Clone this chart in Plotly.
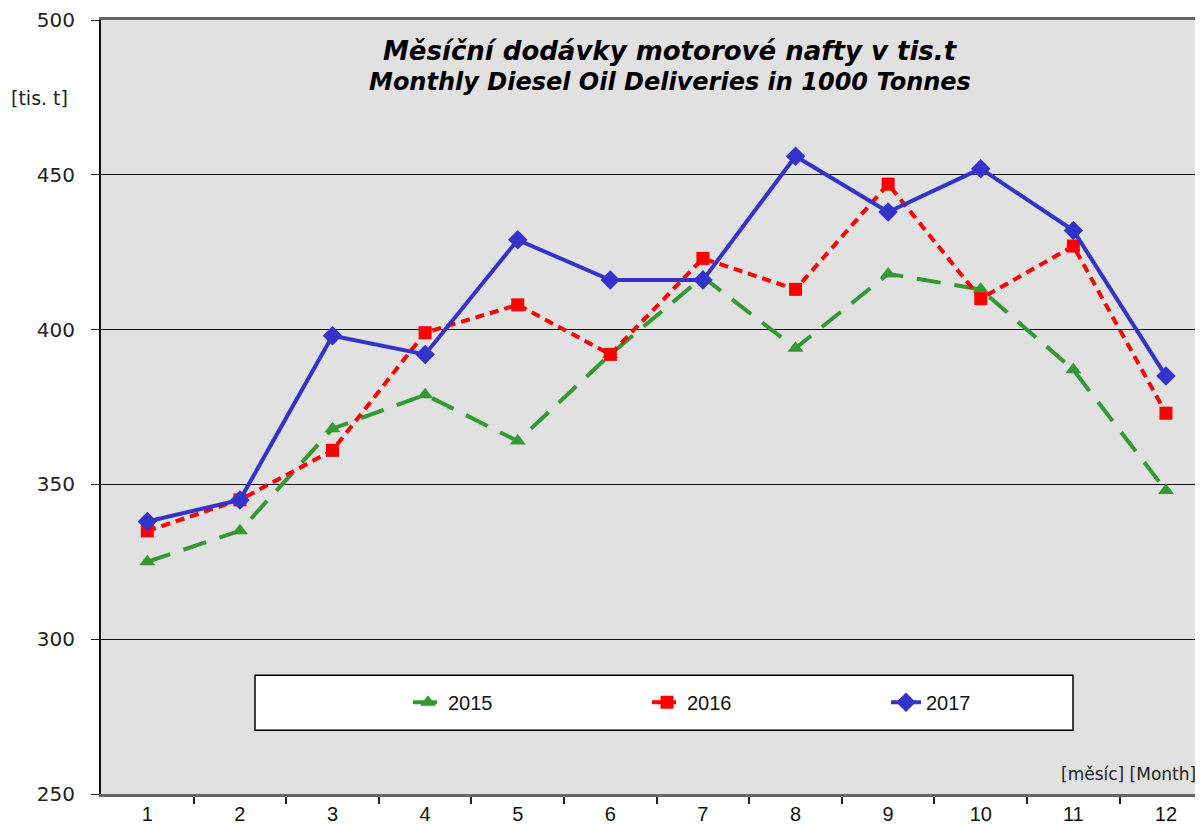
import plotly.graph_objects as go

months = list(range(1, 13))
month_labels = [str(m) for m in months]
y2015 = [325, 335, 368, 379, 364, 392, 417, 394, 418, 413, 387, 348]
y2016 = [335, 345, 361, 399, 408, 392, 423, 413, 447, 410, 427, 373]
y2017 = [338, 345, 398, 392, 429, 416, 416, 456, 438, 452, 432, 385]
y_ticks = [250, 300, 350, 400, 450, 500]

# the page body has an 8px margin, so the figure is shifted by 8px
OFF = 8
W, H = 1203 - OFF, 825 - OFF
L, R, T, B = 101 - OFF, 0, 19 - OFF, 30
pw, ph = W - L - R, H - T - B

DV = "DejaVu Sans, Liberation Sans, Arial, sans-serif"
LS = "Liberation Sans, Arial, sans-serif"


def px(x):
    """page pixel x -> paper x"""
    return (x - 101) / pw


def py(y):
    """page pixel y -> paper y"""
    return (795 - y) / ph


fig = go.Figure()
fig.add_trace(go.Scatter(x=months, y=y2015, name="2015", mode="lines+markers",
                         line=dict(color="#339933", width=4, dash="24px,14px"),
                         marker=dict(symbol="triangle-up", size=14, color="#339933")))
fig.add_trace(go.Scatter(x=months, y=y2016, name="2016", mode="lines+markers",
                         line=dict(color="#ff0000", width=4, dash="9px,6px"),
                         marker=dict(symbol="square", size=13, color="#ff0000")))
fig.add_trace(go.Scatter(x=months, y=y2017, name="2017", mode="lines+markers",
                         line=dict(color="#3333cc", width=4),
                         marker=dict(symbol="diamond", size=15, color="#3333cc")))

fig.update_layout(
    width=W, height=H,
    margin=dict(l=L, r=R, t=T, b=B),
    paper_bgcolor="white",
    plot_bgcolor="#e1e1e1",
    font=dict(family=LS, color="#111"),
    showlegend=True,
    legend=dict(orientation="h", x=px(408), y=py(703), xanchor="left", yanchor="middle",
                entrywidth=194, entrywidthmode="pixels", bgcolor="rgba(0,0,0,0)",
                font=dict(family=LS, size=20, color="#111")),
    shapes=[dict(type="rect", xref="paper", yref="paper", x0=px(255), x1=px(1073),
                 y0=py(731), y1=py(676), fillcolor="white",
                 line=dict(color="black", width=1.5), layer="above")],
    annotations=[
        dict(text="<b><i>Měsíční dodávky motorové nafty v tis.t</i></b>", xref="paper", yref="paper",
             x=px(670), y=py(50), xanchor="center", yanchor="middle", showarrow=False,
             font=dict(family=DV, size=26, color="#000")),
        dict(text="<b><i>Monthly Diesel Oil Deliveries in 1000 Tonnes</i></b>", xref="paper", yref="paper",
             x=px(670), y=py(81), xanchor="center", yanchor="middle", showarrow=False,
             font=dict(family=DV, size=24, color="#000")),
        dict(text="[tis. t]", xref="paper", yref="paper", x=px(9), y=py(97),
             xanchor="left", yanchor="middle", showarrow=False, font=dict(family=DV, size=19, color="#222")),
        dict(text="[měsíc] [Month]", xref="paper", yref="paper", x=px(1198), y=py(775),
             xanchor="right", yanchor="middle", showarrow=False,
             font=dict(family=DV, size=17, color="#222")),
    ],
)

fig.update_xaxes(range=[0.5, 12.4], tickvals=months, ticktext=month_labels, ticks="",
                 showgrid=False, zeroline=False,
                 showline=True, linecolor="#666", linewidth=3, mirror=True,
                 tickfont=dict(family=LS, size=20, color="#111"),
                 minor=dict(tickvals=[m + 0.5 for m in months[:-1]], ticks="outside", ticklen=7,
                            tickcolor="#222", tickwidth=1.5, showgrid=False))
fig.update_yaxes(range=[250, 500.01], tickvals=y_ticks, ticks="outside", ticklen=8, tickcolor="#222",
                 ticklabelstandoff=12, ticklabeloverflow="allow",
                 showgrid=True, gridcolor="#111", gridwidth=1.2, zeroline=False,
                 showline=True, linecolor="#111", linewidth=2,
                 tickfont=dict(family=DV, size=20, color="#222"))

fig.write_html("out.html")
